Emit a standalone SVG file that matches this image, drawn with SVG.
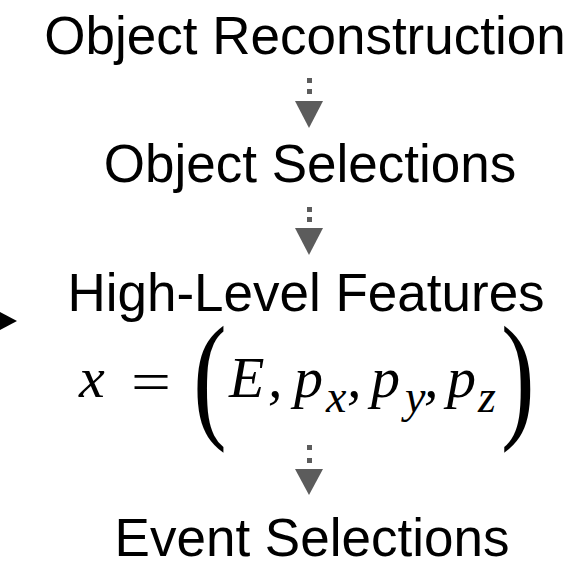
<svg xmlns="http://www.w3.org/2000/svg" width="580" height="564" viewBox="0 0 580 564">
  <style>
    .lbl { font-family: "Liberation Sans", Arial, Helvetica, sans-serif; font-size: 53px; fill: #000; text-anchor: middle; }
    .m { font-family: "Liberation Serif", "Times New Roman", serif; font-size: 58px; fill: #000; font-style: italic; }
    .ms { font-family: "Liberation Serif", "Times New Roman", serif; font-size: 46px; fill: #000; font-style: italic; }
    .mu { font-family: "Liberation Serif", "Times New Roman", serif; fill: #000; }
    .dot { fill: #5c5c5c; }
    .head { fill: #5c5c5c; }
  </style>
  <rect width="580" height="564" fill="#ffffff"/>
  <g id="connectors">
    <g id="arrow1">
      <rect class="dot" x="307" y="78" width="5" height="5"/>
      <rect class="dot" x="307" y="89" width="5" height="5"/>
      <polygon class="head" points="295,101 323,101 309,128"/>
    </g>
    <g id="arrow2">
      <rect class="dot" x="307" y="207" width="5" height="5"/>
      <rect class="dot" x="307" y="217" width="5" height="5"/>
      <polygon class="head" points="295,228 323,228 309,255"/>
    </g>
    <g id="arrow3">
      <rect class="dot" x="307" y="445" width="5" height="5"/>
      <rect class="dot" x="307" y="458" width="5" height="5"/>
      <polygon class="head" points="295,469 323,469 309,495"/>
    </g>
    <g id="arrow-in">
      <polygon points="0,312 17,321 0,330" fill="#000"/>
    </g>
  </g>
  <g id="node-reconstruction">
    <text class="lbl" x="305" y="54">Object Reconstruction</text>
  </g>
  <g id="node-object-selections">
    <text class="lbl" x="310" y="182">Object Selections</text>
  </g>
  <g id="node-features">
    <text class="lbl" x="306" y="311">High-Level Features</text>
    <g id="formula">
      <text class="m" x="79" y="397">x</text>
      <text class="mu" x="131" y="401" font-size="58" textLength="40" lengthAdjust="spacingAndGlyphs">=</text>
      <text class="mu" font-size="88" transform="translate(193,423) scale(1.15,1.6)" x="0" y="0">(</text>
      <text class="m" x="229" y="397">E</text>
      <text class="m" x="268" y="397">,</text>
      <text class="m" x="294" y="397">p</text>
      <text class="ms" x="326" y="412">x</text>
      <text class="m" x="347" y="397">,</text>
      <text class="m" x="371" y="397">p</text>
      <text class="ms" x="405" y="412">y</text>
      <text class="m" x="424" y="397">,</text>
      <text class="m" x="447" y="397">p</text>
      <text class="ms" x="478" y="412">z</text>
      <text class="mu" font-size="88" transform="translate(501,423) scale(1.15,1.6)" x="0" y="0">)</text>
    </g>
  </g>
  <g id="node-event-selections">
    <text class="lbl" x="312" y="556">Event Selections</text>
  </g>
</svg>
